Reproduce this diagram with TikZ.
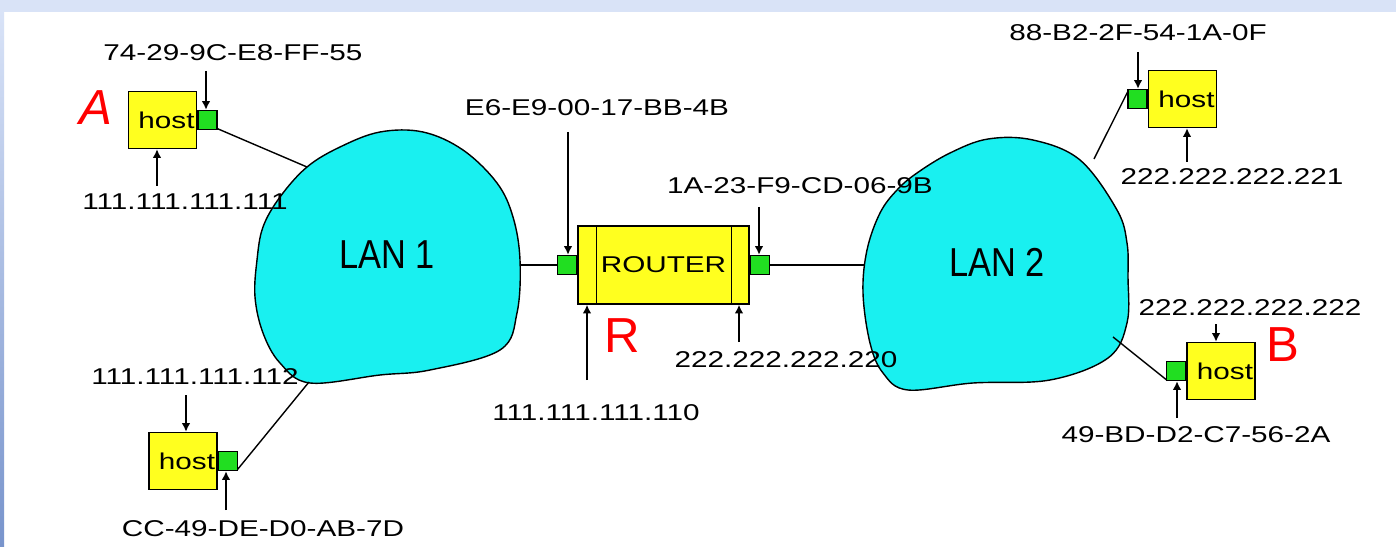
\documentclass[tikz,border=0pt]{standalone}
\usepackage{fontspec}
\setmainfont{Liberation Sans}
\newfontfamily\addrfont[FakeStretch=1.3]{Liberation Sans}
\newfontfamily\lanfont[FakeStretch=0.85]{Liberation Sans}
\definecolor{hostyellow}{rgb}{1.0, 1.0, 0.12}
\definecolor{portgreen}{rgb}{0.13, 0.87, 0.13}
\definecolor{lancyan}{rgb}{0.1, 0.94, 0.94}
\definecolor{markred}{rgb}{1.0, 0.0, 0.0}
\definecolor{slideblue}{rgb}{0.85, 0.89, 0.97}
\definecolor{slidedark}{rgb}{0.47, 0.58, 0.8}
\usetikzlibrary{arrows.meta, positioning}

\begin{document}
\begin{tikzpicture}[>=Stealth, x=0.02cm, y=-0.02cm]
	% ------------------------------------------------------------------
	% PAGE & SLIDE EDGE
	% ------------------------------------------------------------------
	\useasboundingbox (0,0) rectangle (1396,547);
	\fill[white] (0,0) rectangle (1396,547);
	\fill[slideblue] (0,0) rectangle (1396,12);
	\shade[top color=slideblue, bottom color=slidedark] (0,12) rectangle (4,547);
	
	% ------------------------------------------------------------------
	% STYLE DEFINITIONS
	% ------------------------------------------------------------------
	\tikzset{
		host/.style     = {draw, fill=hostyellow, line width=0.8pt, minimum width=1.36cm, minimum height=1.14cm, inner sep=0pt, font=\addrfont\fontsize{13}{15}\selectfont},
		port/.style     = {draw, fill=portgreen, line width=0.8pt, minimum width=0.38cm, minimum height=0.38cm, inner sep=0pt},
		router/.style   = {draw, fill=hostyellow, line width=0.8pt, minimum width=3.42cm, minimum height=1.56cm, inner sep=0pt, font=\addrfont\fontsize{13}{15}\selectfont},
		addr/.style     = {inner sep=1pt, font=\addrfont\fontsize{13}{15}\selectfont},
		addrarrow/.style= {line width=1pt, -{Latex[length=5pt,width=5pt]}},
		wire/.style     = {line width=0.8pt},
		lan/.style      = {draw, fill=lancyan, line width=0.8pt},
		lanname/.style  = {font=\lanfont\fontsize{23}{26}\selectfont},
		redmark/.style  = {text=markred, font=\fontsize{28}{30}\selectfont}
	}
	
	% --- LAN clouds ---
	\draw[lan] plot[smooth cycle, tension=0.6] coordinates {(380,132) (423,132) (463,150) (497,183) (513,217) (520,260) (517,313) (500,350) (430,370) (380,375) (310,383) (280,363) (263,333) (255,297) (257,260) (263,227) (280,197) (307,167) (340,147)};
	\draw[lan] plot[smooth cycle, tension=0.6] coordinates {(988,139) (1033,140) (1080,160) (1117,210) (1127,243) (1128,277) (1127,323) (1108,358) (1050,380) (973,383) (908,390) (883,373) (870,343) (863,293) (867,250) (880,213) (897,190) (917,173) (950,153)};
	\node[lanname] (lan1) at (387,255) {LAN 1};
	\node[lanname] (lan2) at (997,262) {LAN 2};
	
	% points on the clouds where the wires end
	\coordinate (lan1nw) at (307,167);
	\coordinate (lan1sw) at (309,382);
	\coordinate (lan1e)  at (520,265);
	\coordinate (lan2w)  at (864,265);
	\coordinate (lan2ne) at (1094,159);
	\coordinate (lan2se) at (1113,337);
	
	% --- Hosts and router ---
	\node[host] (hostA)  at (162.5,120) {\hspace*{0.16cm}host};
	\node[host] (hostLL) at (183,461)   {\hspace*{0.16cm}host};
	\node[host] (hostUR) at (1182.5,99) {\hspace*{0.16cm}host};
	\node[host] (hostB)  at (1221,371)  {\hspace*{0.16cm}host};
	\node[router] (rt) at (663.5,265) {ROUTER};
	\draw[wire] ([xshift=0.38cm]rt.north west) -- ([xshift=0.38cm]rt.south west);
	\draw[wire] ([xshift=-0.36cm]rt.north east) -- ([xshift=-0.36cm]rt.south east);
	
	% --- Wires ---
	\draw[wire] (hostA.east) -- (lan1nw);
	\draw[wire] (hostLL.east) ++(0.38cm,-0.19cm) -- (lan1sw);
	\draw[wire] (lan1e) -- (rt.west);
	\draw[wire] (rt.east) -- (lan2w);
	\draw[wire] (hostUR.west) ++(-0.38cm,0.19cm) -- (lan2ne);
	\draw[wire] (hostB.west) ++(-0.38cm,-0.19cm) -- (lan2se);
	
	% --- Interface cards ---
	\node[port, right=0pt of hostA]  (portA)  {};
	\node[port, right=0pt of hostLL] (portLL) {};
	\node[port, left=0pt of hostUR]  (portUR) {};
	\node[port, left=0pt of hostB]   (portB)  {};
	\node[port, left=0pt of rt]      (portRl) {};
	\node[port, right=0pt of rt]     (portRr) {};
	
	% ------------------------------------------------------------------
	% ADDRESSES
	% ------------------------------------------------------------------
	\node[addr] (macA)  at (233,53)   {74-29-9C-E8-FF-55};
	\node[addr] (ipA)   at (185,202)  {111.111.111.111};
	\node[addr] (ipLL)  at (195,377)  {111.111.111.112};
	\node[addr] (macLL) at (263,529)  {CC-49-DE-D0-AB-7D};
	\node[addr] (macRl) at (597,108)  {E6-E9-00-17-BB-4B};
	\node[addr] (ipRl)  at (596,413)  {111.111.111.110};
	\node[addr] (macRr) at (800,186)  {1A-23-F9-CD-06-9B};
	\node[addr] (ipRr)  at (786,360)  {222.222.222.220};
	\node[addr] (macUR) at (1138,33)  {88-B2-2F-54-1A-0F};
	\node[addr] (ipUR)  at (1232,177) {222.222.222.221};
	\node[addr] (ipB)   at (1250,308) {222.222.222.222};
	\node[addr] (macB)  at (1196,435) {49-BD-D2-C7-56-2A};
	
	% arrow tails
	\coordinate (tMacA)  at (206,71);
	\coordinate (tIpA)   at (157,186);
	\coordinate (tIpLL)  at (186,395);
	\coordinate (tMacLL) at (226,510);
	\coordinate (tMacRl) at (568,132);
	\coordinate (tIpRl)  at (587,380);
	\coordinate (tMacRr) at (759,207);
	\coordinate (tIpRr)  at (739,342);
	\coordinate (tMacUR) at (1138,52);
	\coordinate (tIpUR)  at (1187,162);
	\coordinate (tIpB)   at (1216,324);
	\coordinate (tMacB)  at (1177,418);
	
	\draw[addrarrow] (tMacA)  -- (tMacA |- portA.north);
	\draw[addrarrow] (tIpA)   -- (tIpA |- hostA.south);
	\draw[addrarrow] (tIpLL)  -- (tIpLL |- hostLL.north);
	\draw[addrarrow] (tMacLL) -- (tMacLL |- portLL.south);
	\draw[addrarrow] (tMacRl) -- (tMacRl |- portRl.north);
	\draw[addrarrow] (tIpRl)  -- (tIpRl |- rt.south);
	\draw[addrarrow] (tMacRr) -- (tMacRr |- portRr.north);
	\draw[addrarrow] (tIpRr)  -- (tIpRr |- rt.south);
	\draw[addrarrow] (tMacUR) -- (tMacUR |- portUR.north);
	\draw[addrarrow] (tIpUR)  -- (tIpUR |- hostUR.south);
	\draw[addrarrow] (tIpB)   -- (tIpB |- hostB.north);
	\draw[addrarrow] (tMacB)  -- (tMacB |- portB.south);
	
	% --- Red marks ---
	\node[redmark] (markA) at (96,108)  {\itshape A};
	\node[redmark] (markR) at (622,336) {R};
	\node[redmark] (markB) at (1283,345) {B};
	
\end{tikzpicture}
\end{document}
